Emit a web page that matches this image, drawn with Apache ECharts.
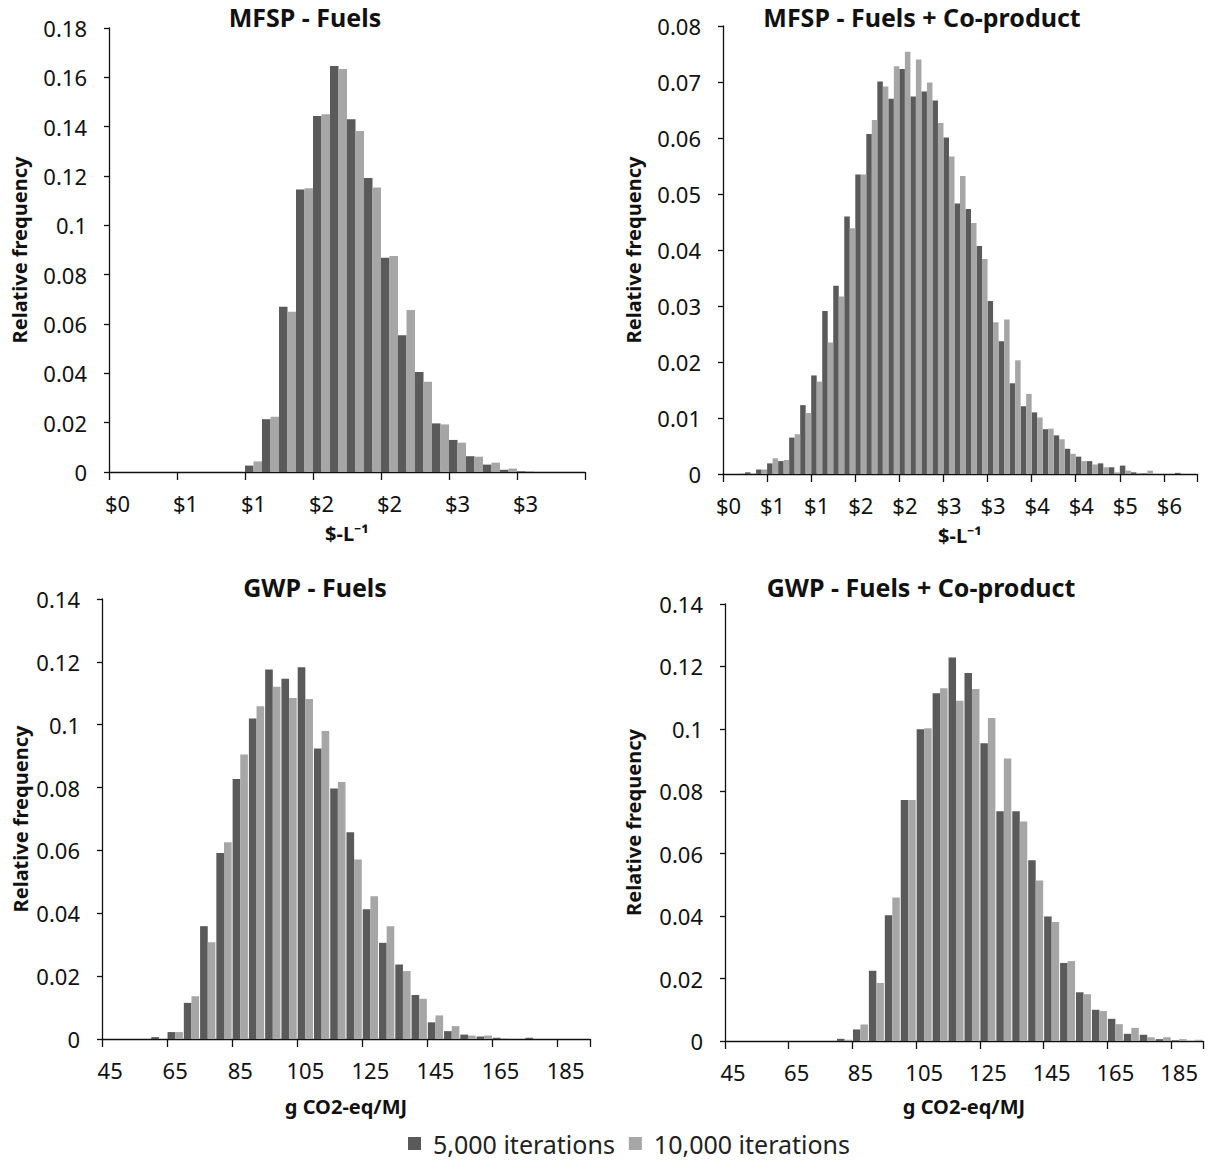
<!DOCTYPE html>
<html>
<head>
<meta charset="utf-8">
<script src="https://cdn.jsdelivr.net/npm/echarts@6/dist/echarts.min.js"></script>
<style>
  html, body { margin: 0; padding: 0; background: #fff; }
  #chart { width: 1208px; height: 1163px; }
</style>
</head>
<body>
<div id="chart"></div>
<script>
// ---- categories (bin values) ----
const mfspFuelsBins = [0.00,0.14,0.28,0.42,0.56,0.70,0.84,0.98,1.12,1.26,1.40,1.54,1.68,1.82,1.96,2.10,2.24,2.38,2.52,2.66,2.80,2.94,3.08,3.22,3.36,3.50,3.64,3.78];
const mfspCoBins = [0.00,0.14,0.28,0.42,0.56,0.70,0.84,0.98,1.12,1.26,1.40,1.54,1.68,1.82,1.96,2.10,2.24,2.38,2.52,2.66,2.80,2.94,3.08,3.22,3.36,3.50,3.64,3.78,3.92,4.06,4.20,4.34,4.48,4.62,4.76,4.90,5.04,5.18,5.32,5.46,5.60,5.74,5.88];
const gwpBins = [45,50,55,60,65,70,75,80,85,90,95,100,105,110,115,120,125,130,135,140,145,150,155,160,165,170,175,180,185,190];

// ---- series values ----
const mfspFuels5k  = [0,0,0,0,0,0,0,0,0.0026,0.0214,0.0670,0.1145,0.1443,0.1646,0.1430,0.1192,0.0869,0.0554,0.0405,0.0197,0.0130,0.0064,0.0030,0.0009,0.0003,0,0,0];
const mfspFuels10k = [0,0,0,0,0,0,0,0,0.0043,0.0224,0.0650,0.1150,0.1450,0.1634,0.1382,0.1153,0.0876,0.0657,0.0366,0.0193,0.0119,0.0062,0.0038,0.0014,0.0004,0,0,0];

const mfspCo5k  = [0,0,0.0003,0.0008,0.0019,0.0023,0.0065,0.0123,0.0176,0.0291,0.0336,0.0460,0.0535,0.0607,0.0701,0.0670,0.0723,0.0674,0.0683,0.0667,0.0601,0.0483,0.0473,0.0407,0.0309,0.0237,0.0162,0.0121,0.0110,0.0080,0.0069,0.0045,0.0031,0.0023,0.0019,0.0012,0.0015,0.0003,0.0001,0,0,0.0002,0];
const mfspCo10k = [0,0.0001,0.0001,0.0008,0.0028,0.0025,0.0071,0.0109,0.0165,0.0235,0.0317,0.0439,0.0535,0.0632,0.0692,0.0728,0.0754,0.0740,0.0699,0.0627,0.0567,0.0532,0.0448,0.0384,0.0271,0.0276,0.0203,0.0143,0.0101,0.0081,0.0062,0.0036,0.0023,0.0017,0.0012,0.0003,0.0006,0.0002,0.0006,0,0,0,0];

const gwpFuels5k  = [0,0,0,0.0006,0.0022,0.0115,0.0359,0.0592,0.0827,0.1020,0.1176,0.1146,0.1183,0.0924,0.0797,0.0658,0.0413,0.0306,0.0237,0.0140,0.0053,0.0025,0.0014,0.0008,0.0004,0,0.0004,0,0,0];
const gwpFuels10k = [0,0,0,0,0.0022,0.0136,0.0308,0.0626,0.0905,0.1059,0.1121,0.1085,0.1082,0.0980,0.0818,0.0571,0.0454,0.0359,0.0216,0.0128,0.0075,0.0041,0.0011,0.0011,0.0002,0,0,0,0,0];

const gwpCo5k  = [0,0,0,0,0,0,0,0.0007,0.0037,0.0225,0.0403,0.0772,0.0999,0.1114,0.1229,0.1179,0.0954,0.0736,0.0736,0.0579,0.0399,0.0250,0.0156,0.0100,0.0071,0.0023,0.0020,0.0006,0.0002,0];
const gwpCo10k = [0,0,0,0,0,0,0,0.0004,0.0053,0.0186,0.0460,0.0772,0.1002,0.1130,0.1090,0.1128,0.1035,0.0905,0.0703,0.0514,0.0381,0.0256,0.0150,0.0096,0.0054,0.0042,0.0012,0.0012,0.0006,0.0004];

// ---- text ----
const seriesNames = ['5,000 iterations', '10,000 iterations'];
const titles = ['MFSP - Fuels', 'MFSP - Fuels + Co-product', 'GWP - Fuels', 'GWP - Fuels + Co-product'];
const xNames = ['$-L\u207B\u00B9', '$-L\u207B\u00B9', 'g CO2-eq/MJ', 'g CO2-eq/MJ'];
const yName = 'Relative frequency';
const yMax = [0.18, 0.08, 0.14, 0.14];
const yStep = [0.02, 0.01, 0.02, 0.02];

const DARK = '#5a5a5a', LIGHT = '#a6a6a6';
const FONT = 'Noto Sans';

const panels = [
  { bins: mfspFuelsBins, a: mfspFuels5k, b: mfspFuels10k, dollar: true, grid: {left: 109, top: 28, width: 476, height: 444}, titleX: 305, titleY: 4, xGap: 51, yGap: 80, gap: '0%' },
  { bins: mfspCoBins, a: mfspCo5k, b: mfspCo10k, dollar: true, grid: {left: 723, top: 26, width: 474, height: 448}, titleX: 922, titleY: 4, xGap: 51, yGap: 80, gap: '0%' },
  { bins: gwpBins, a: gwpFuels5k, b: gwpFuels10k, dollar: false, grid: {left: 102, top: 599, width: 488, height: 440}, titleX: 315, titleY: 574, xGap: 57, yGap: 72, gap: '6%' },
  { bins: gwpBins, a: gwpCo5k, b: gwpCo10k, dollar: false, grid: {left: 725, top: 604, width: 478, height: 437}, titleX: 921, titleY: 574, xGap: 55, yGap: 82, gap: '6%' }
];

const chart = echarts.init(document.getElementById('chart'), null, { renderer: 'svg' });

const option = {
  animation: false,
  backgroundColor: '#fff',
  textStyle: { fontFamily: FONT },
  title: panels.map((p, i) => ({
    text: titles[i], left: p.titleX, top: p.titleY, textAlign: 'center', padding: 0,
    textStyle: { fontFamily: FONT, fontSize: 25, fontWeight: 'bold', color: '#111' }
  })),
  legend: {
    data: seriesNames, bottom: 2, left: 403, icon: 'rect',
    itemWidth: 13, itemHeight: 13, itemGap: 14,
    textStyle: { fontFamily: FONT, fontSize: 25, color: '#222', padding: [0, 0, 0, 7] }
  },
  grid: panels.map(p => Object.assign({ containLabel: false }, p.grid)),
  xAxis: panels.map((p, i) => ({
    type: 'category', gridIndex: i, data: p.bins, boundaryGap: true,
    name: xNames[i], nameLocation: 'middle', nameGap: p.xGap,
    nameTextStyle: { fontFamily: FONT, fontSize: 20, fontWeight: 'bold', color: '#111' },
    axisLine: { show: true, lineStyle: { color: '#111', width: 1.3 } },
    axisTick: { show: true, interval: 3, length: 8, lineStyle: { color: '#111', width: 1.3 } },
    axisLabel: {
      interval: 3, margin: 20, fontSize: 22, color: '#111', fontFamily: FONT,
      formatter: v => p.dollar ? '$' + Math.round(Number(v)) : String(v)
    },
    splitLine: { show: false }
  })),
  yAxis: panels.map((p, i) => ({
    type: 'value', gridIndex: i, min: 0, max: yMax[i], interval: yStep[i],
    name: yName, nameLocation: 'middle', nameGap: p.yGap,
    nameTextStyle: { fontFamily: FONT, fontSize: 20, fontWeight: 'bold', color: '#111' },
    axisLine: { show: true, lineStyle: { color: '#111', width: 1.3 } },
    axisTick: { show: true, length: 5, lineStyle: { color: '#111', width: 1.3 } },
    axisLabel: { margin: 22, fontSize: 22, color: '#111', fontFamily: FONT },
    splitLine: { show: false }
  })),
  series: panels.flatMap((p, i) => [
    { name: seriesNames[0], type: 'bar', xAxisIndex: i, yAxisIndex: i, data: p.a,
      itemStyle: { color: DARK }, barGap: '0%', barCategoryGap: p.gap, silent: true },
    { name: seriesNames[1], type: 'bar', xAxisIndex: i, yAxisIndex: i, data: p.b,
      itemStyle: { color: LIGHT }, barGap: '0%', barCategoryGap: p.gap, silent: true }
  ])
};

chart.setOption(option);
</script>
</body>
</html>
